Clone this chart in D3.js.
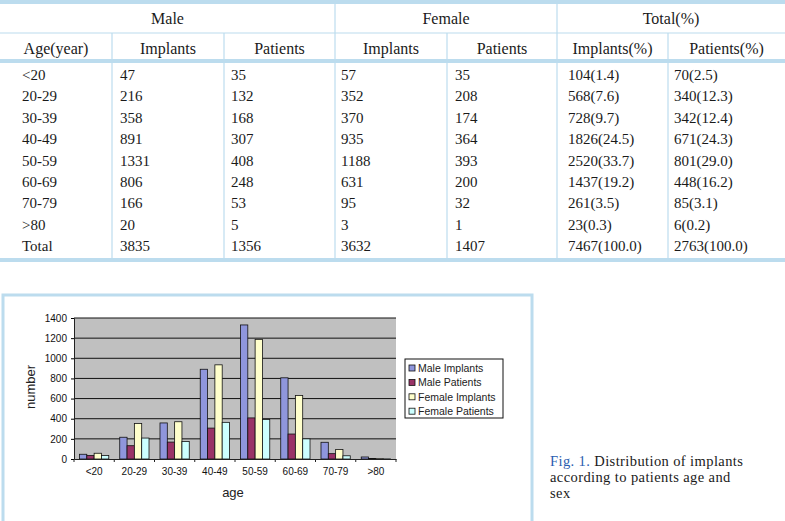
<!DOCTYPE html>
<html>
<head>
<meta charset="utf-8">
<script src="https://cdn.jsdelivr.net/npm/d3@7"></script>
<style>
  body { margin: 0; background: #fff; }
  svg text { font-family: 'Liberation Serif', serif; }
</style>
</head>
<body>
<div id="page"></div>
<script>
// age groups (table rows and chart categories)
const ageGroups = ['<20', '20-29', '30-39', '40-49', '50-59', '60-69', '70-79', '>80']

// counts
const maleImplants = [47, 216, 358, 891, 1331, 806, 166, 20]
const malePatients = [35, 132, 168, 307, 408, 248, 53, 5]
const femaleImplants = [57, 352, 370, 935, 1188, 631, 95, 3]
const femalePatients = [35, 208, 174, 364, 393, 200, 32, 1]
const totalImplants = ['104(1.4)', '568(7.6)', '728(9.7)', '1826(24.5)', '2520(33.7)', '1437(19.2)', '261(3.5)', '23(0.3)']
const totalPatients = ['70(2.5)', '340(12.3)', '342(12.4)', '671(24.3)', '801(29.0)', '448(16.2)', '85(3.1)', '6(0.2)']
const totalRow = ['Total', 3835, 1356, 3632, 1407, '7467(100.0)', '2763(100.0)']

const groupHeaders = ['Male', 'Female', 'Total(%)']
const colHeaders = ['Age(year)', 'Implants', 'Patients', 'Implants', 'Patients', 'Implants(%)', 'Patients(%)']

const seriesNames = ['Male Implants', 'Male Patients', 'Female Implants', 'Female Patients']
const seriesValues = [maleImplants, malePatients, femaleImplants, femalePatients]
const yTicks = [0, 200, 400, 600, 800, 1000, 1200, 1400]

const caption = ['Fig. 1. Distribution of implants', 'according to patients age and', 'sex']

const W = 785
const H = 521
const blue = '#bcdcee'
const colors = ['#8f96dc', '#993366', '#ffffcc', '#ccffff']

const svg = d3.select('#page')
  .append('svg')
  .attr('width', W)
  .attr('height', H)

// ---------------- table ----------------
const colEdges = [0, 112, 224, 335, 447, 557, 668, 785]
const table = svg.append('g')

// header lines
table.append('path').attr('d', `M0,33H${W}`).attr('stroke', blue).attr('stroke-width', 1.2)
;[2, 61, 260].forEach((y) => {
  table.append('path').attr('d', `M0,${y}H${W}`).attr('stroke', blue).attr('stroke-width', 4)
})
// vertical separators
;[1, 2, 4, 6].forEach((i) => {
  table.append('path').attr('d', `M${colEdges[i]},33V260`).attr('stroke', blue).attr('stroke-width', 1.2)
})
;[3, 5].forEach((i) => {
  table.append('path').attr('d', `M${colEdges[i]},2V260`).attr('stroke', blue).attr('stroke-width', 1.2)
})

// group headers
const groupSpans = [[0, 335], [335, 557], [557, 785]]
groupHeaders.forEach((t, i) => {
  table.append('text')
    .attr('x', (groupSpans[i][0] + groupSpans[i][1]) / 2)
    .attr('y', 18)
    .attr('text-anchor', 'middle')
    .attr('dominant-baseline', 'central')
    .style('font-size', '16px')
    .attr('fill', '#1a1a1a')
    .text(t)
})
colHeaders.forEach((t, i) => {
  table.append('text')
    .attr('x', (colEdges[i] + colEdges[i + 1]) / 2)
    .attr('y', 48)
    .attr('text-anchor', 'middle')
    .attr('dominant-baseline', 'central')
    .style('font-size', '16px')
    .attr('fill', '#1a1a1a')
    .text(t)
})

// rows
const rows = ageGroups.map((g, i) => [g, maleImplants[i], malePatients[i], femaleImplants[i],
  femalePatients[i], totalImplants[i], totalPatients[i]])
rows.push(totalRow)
const rowY = d3.scalePoint()
  .domain(rows.map((r) => r[0]))
  .range([75, 246])
const textX = [22, 120, 231, 341, 455, 568, 674]
rows.forEach((r) => {
  r.forEach((v, j) => {
    table.append('text')
      .attr('x', textX[j])
      .attr('y', rowY(r[0]))
      .attr('dominant-baseline', 'central')
      .style('font-size', '15px')
      .attr('fill', '#1a1a1a')
      .text(v)
  })
})

// ---------------- chart ----------------
// frame around chart
svg.append('rect')
  .attr('x', 3)
  .attr('y', 295)
  .attr('width', 529)
  .attr('height', 240)
  .attr('fill', 'none')
  .attr('stroke', blue)
  .attr('stroke-width', 3)

const xs = d3.scaleBand().domain(ageGroups).range([74, 396])
const xsub = d3.scaleBand().domain(seriesNames).range([0, xs.bandwidth()]).paddingOuter(0.75)
const ys = d3.scaleLinear().domain([0, 1400]).range([459, 318])

const plot = svg.append('g')
plot.append('rect')
  .attr('x', 74)
  .attr('y', ys(1400))
  .attr('width', 396 - 74)
  .attr('height', ys(0) - ys(1400))
  .attr('fill', '#c0c0c0')

// gridlines
plot.selectAll('.grid')
  .data(yTicks.slice(1))
  .enter()
  .append('path')
  .attr('d', (d) => `M74,${ys(d)}H396`)
  .attr('stroke', '#111')
  .attr('stroke-width', 1)

// bars
seriesNames.forEach((s, k) => {
  plot.selectAll('.bar-' + k)
    .data(seriesValues[k])
    .enter()
    .append('rect')
    .attr('x', (d, i) => xs(ageGroups[i]) + xsub(s))
    .attr('y', (d) => ys(d))
    .attr('width', xsub.bandwidth())
    .attr('height', (d) => ys(0) - ys(d))
    .attr('fill', colors[k])
    .attr('stroke', '#111')
    .attr('stroke-width', 0.8)
})

// y axis
svg.append('g')
  .attr('transform', 'translate(74,0)')
  .call(d3.axisLeft(ys).tickValues(yTicks).tickFormat(d3.format('d')).tickSize(3).tickPadding(4))
  .call((g) => g.select('.domain').attr('stroke', '#222'))
  .call((g) => g.selectAll('text').style('font-family', 'Liberation Sans').style('font-size', '10px').attr('fill', '#111'))

// x axis
svg.append('g')
  .attr('transform', `translate(0,${ys(0)})`)
  .call(d3.axisBottom(xs).tickSize(0).tickPadding(9))
  .call((g) => g.select('.domain').attr('stroke', '#222'))
  .call((g) => g.selectAll('text').style('font-family', 'Liberation Sans').style('font-size', '10px').attr('fill', '#111'))
svg.selectAll('.xtick')
  .data(ageGroups.concat(['end']))
  .enter()
  .append('path')
  .attr('d', (d, i) => `M${74 + i * xs.step()},${ys(0)}v3`)
  .attr('stroke', '#222')

// axis titles
svg.append('text')
  .attr('transform', 'rotate(-90)')
  .attr('x', -387)
  .attr('y', 30)
  .attr('text-anchor', 'middle')
  .attr('dominant-baseline', 'central')
  .style('font-family', 'Liberation Sans')
  .style('font-size', '13px')
  .attr('fill', '#222')
  .text('number')
svg.append('text')
  .attr('x', 233)
  .attr('y', 492)
  .attr('text-anchor', 'middle')
  .attr('dominant-baseline', 'central')
  .style('font-family', 'Liberation Sans')
  .style('font-size', '13px')
  .attr('fill', '#222')
  .text('age')

// legend
const legend = svg.append('g').attr('transform', 'translate(405,359)')
legend.append('rect')
  .attr('width', 98)
  .attr('height', 59)
  .attr('fill', '#fff')
  .attr('stroke', '#111')
seriesNames.forEach((s, k) => {
  const y = 9 + k * 14.4
  legend.append('rect')
    .attr('x', 4)
    .attr('y', y - 3)
    .attr('width', 6)
    .attr('height', 6)
    .attr('fill', colors[k])
    .attr('stroke', '#111')
    .attr('stroke-width', 0.8)
  legend.append('text')
    .attr('x', 13)
    .attr('y', y)
    .attr('dominant-baseline', 'central')
    .style('font-family', 'Liberation Sans')
    .style('font-size', '10.5px')
    .attr('fill', '#222')
    .text(s)
})

// caption
caption.forEach((line, i) => {
  const t = svg.append('text')
    .attr('x', 550)
    .attr('y', 466 + i * 16)
    .style('font-size', '14.5px')
    .style('letter-spacing', '0.4px')
    .attr('fill', '#1a1a1a')
  if (i === 0) {
    t.append('tspan').attr('fill', '#2a5db0').text('Fig. 1.')
    t.append('tspan').text(line.slice(7))
  } else {
    t.text(line)
  }
})
</script>
</body>
</html>
